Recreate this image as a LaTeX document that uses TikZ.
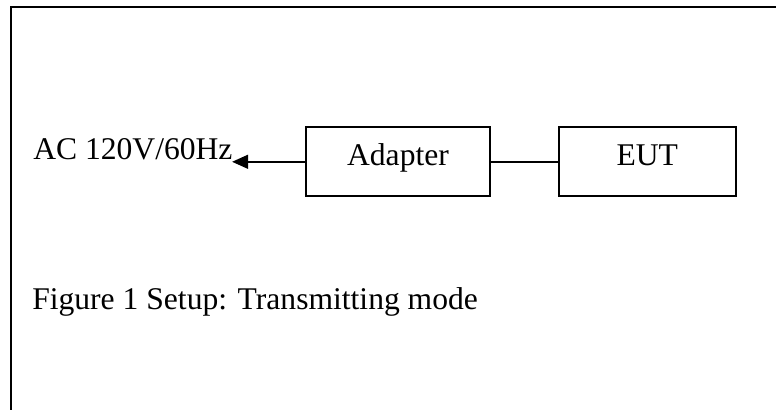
\documentclass[tikz,border=0pt]{standalone}
\usepackage{fontspec}
\setmainfont{Liberation Serif}
\usetikzlibrary{arrows.meta}

\tikzset{
  unitbox/.style={draw, line width=1.5pt, minimum width=#1, minimum height=52pt,
    inner sep=0pt, text height=0.7em, text depth=0.2em},
  label/.style={anchor=base west, inner sep=0pt},
  wire/.style={line width=1.1pt}
}

\begin{document}
\begin{tikzpicture}[x=0.75pt,y=0.75pt,yscale=-1,xscale=1,font=\fontsize{23.7}{28}\selectfont]

\useasboundingbox (0,0) rectangle (776,410);

%Frame
\draw [line width=1.5pt]  (11,410) -- (11,7.5) -- (776,7.5) ;

%Boxes
\node [unitbox=138pt] (adapter) at (398,161.8) {Adapter};
\node [unitbox=132.4pt] (eut) at (647.3,161.8) {EUT};

% Text Node
\node [label] (ac) at (33,160) {AC 120V/60Hz};
% Text Node
\node [label] (caption) at (32,310) {Figure 1 Setup: Transmitting mode};

%Lines
\draw [wire]  (adapter.east) -- (eut.west) ;
\draw [wire, -{Triangle[length=12pt,width=10.5pt]}, shorten >=-0.5pt]  (adapter.west) -- (adapter.west -| ac.east) ;

\end{tikzpicture}
\end{document}
